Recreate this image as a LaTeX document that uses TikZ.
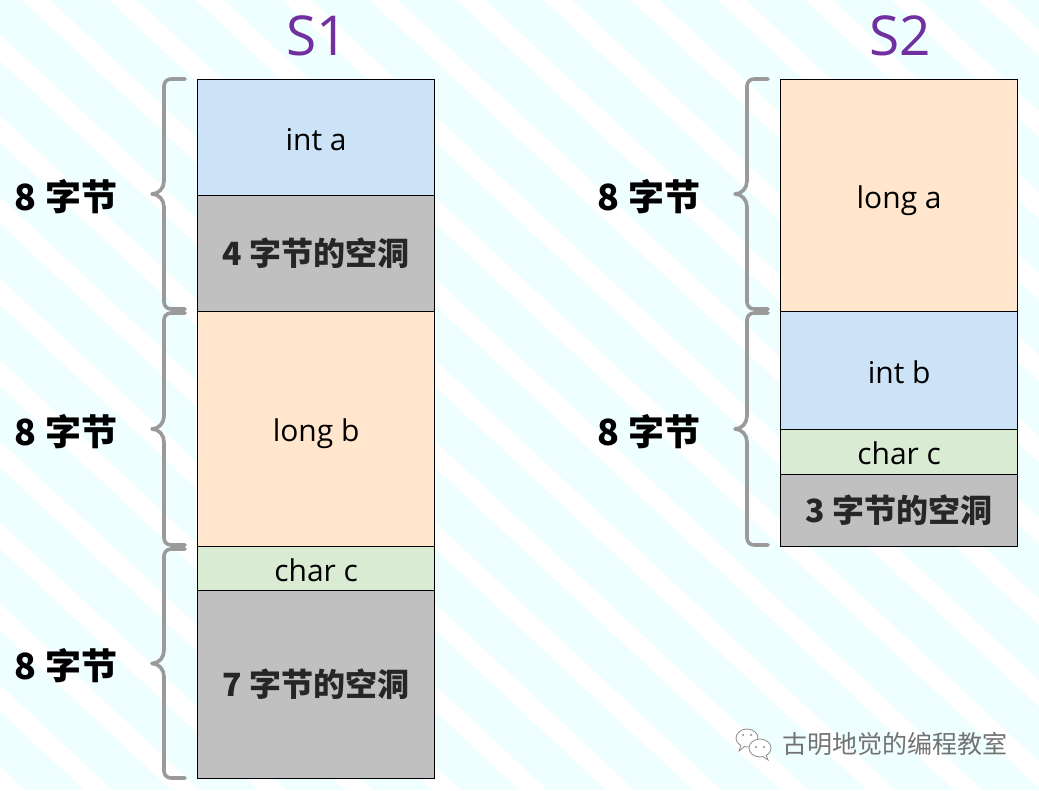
\documentclass[tikz,border=0pt]{standalone}
\usepackage{fontspec}
\setmainfont{Open Sans}
\newfontfamily\cjk{Noto Sans CJK SC}
\definecolor{bgcyan}{HTML}{EFFEFF}
\definecolor{cblue}{HTML}{CCE2F7}
\definecolor{corange}{HTML}{FFE6CC}
\definecolor{cgreen}{HTML}{D9EBD3}
\definecolor{cgray}{HTML}{C0C0C0}
\definecolor{cpurple}{HTML}{7030A0}
\definecolor{bracegray}{HTML}{9A9A9A}
\newcommand\mybrace[3]{%
  \draw[bracestyle] (#1+21,#2) -- (#1+7,#2) to[out=180,in=90] (#1,#2+7)
    -- (#1,{(#2+#3)/2-13}) to[out=-90,in=0] (#1-12,{(#2+#3)/2})
    to[out=0,in=90] (#1,{(#2+#3)/2+13}) -- (#1,#3-7)
    to[out=-90,in=180] (#1+7,#3) -- (#1+21,#3);}
\begin{document}
\begin{tikzpicture}[x=1pt,y=-1pt,
  cell/.style={draw=black, line width=1.3pt, minimum width=237pt, inner sep=0pt,
    anchor=north west, text height=31pt, text depth=6pt, font=\fontsize{30}{34}\selectfont},
  hole/.style={cell, fill=cgray, text height=27pt, text depth=3pt, font=\cjk\bfseries\fontsize{32}{36}\selectfont, text=black!85},
  bytes/.style={font=\cjk\bfseries\fontsize{36}{40}\selectfont},
  title/.style={font=\fontsize{55}{60}\selectfont, text=cpurple},
  bracestyle/.style={draw=bracegray, line width=3.6pt, line cap=round, line join=round}]
\useasboundingbox (0,0) rectangle (1039,790);
% background
\fill[bgcyan] (0,0) rectangle (1039,790);
\begin{scope}
\clip (0,0) rectangle (1039,790);
\foreach \i in {-12,...,13}{
  \fill[white] ({22+\i*87},0) -- ({50+\i*87},0) -- ({50+\i*87+1.07*790},790) -- ({22+\i*87+1.07*790},790) -- cycle;
}
\end{scope}
% titles
\node[title] (t1) at (317,36) {S1};
\node[title] (t2) at (900,36) {S2};
% S1
\node[cell, fill=cblue, minimum height=116pt] (a1) at (197,79) {int a};
\node[hole, minimum height=116pt] (h1) at (197,195) {4 字节的空洞};
\node[cell, fill=corange, minimum height=235pt] (b1) at (197,311) {long b};
\node[cell, fill=cgreen, minimum height=44pt] (c1) at (197,546) {char c};
\node[hole, minimum height=188pt] (h2) at (197,590) {7 字节的空洞};
% S2
\node[cell, fill=corange, minimum height=232pt] (a2) at (780,79) {long a};
\node[cell, fill=cblue, minimum height=118pt] (b2) at (780,311) {int b};
\node[cell, fill=cgreen, minimum height=45pt] (c2) at (780,429) {char c};
\node[hole, minimum height=72pt] (h3) at (780,474) {3 字节的空洞};
% braces
\mybrace{164}{79}{309}
\mybrace{164}{313}{545}
\mybrace{164}{549}{778}
\mybrace{747}{79}{309}
\mybrace{747}{313}{545}
% byte labels
\node[bytes] (l1) at (66,197) {8 字节};
\node[bytes] (l2) at (66,432) {8 字节};
\node[bytes] (l3) at (66,666) {8 字节};
\node[bytes] (l4) at (649,197) {8 字节};
\node[bytes] (l5) at (649,432) {8 字节};
% footer
\begin{scope}[draw=black!45, line width=0.8pt, fill=white]
\filldraw (747,738) ellipse (11 and 9);
\filldraw (741,745) -- (739,751) -- (745,746);
\filldraw (760,748) ellipse (11 and 9);
\filldraw (766,755) -- (768,760) -- (762,756);
\fill[black!45] (743,735) circle (1.1) (751,735) circle (1.1) (756,747) circle (1.1) (764,747) circle (1.1);
\end{scope}
\node[font=\cjk\fontsize{25}{28}\selectfont, text=black!55, anchor=west] (ft) at (779,744) {古明地觉的编程教室};
\end{tikzpicture}
\end{document}
